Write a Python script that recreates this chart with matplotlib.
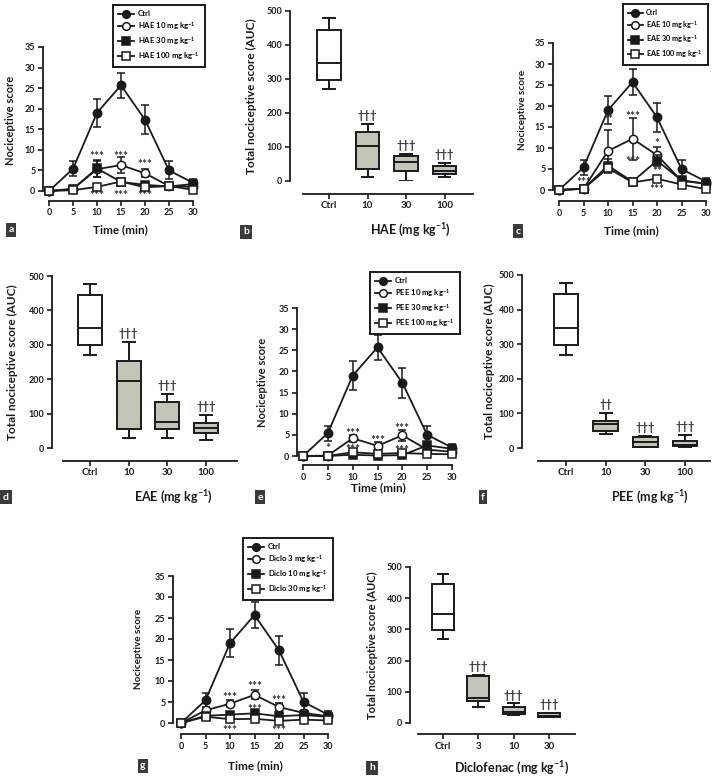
import matplotlib
matplotlib.use('Agg')
import matplotlib.pyplot as plt

plt.rcParams['font.family'] = ['Lato', 'DejaVu Sans']
plt.rcParams['font.weight'] = 'bold'
plt.rcParams['mathtext.fontset'] = 'custom'
plt.rcParams['mathtext.bf'] = 'Lato:bold'
plt.rcParams['mathtext.rm'] = 'Lato:bold'
plt.rcParams['mathtext.default'] = 'bf'

# ---------------- data ----------------
time = [0, 5, 10, 15, 20, 25, 30]
ctrl_mean = [0, 5.4, 19.0, 25.7, 17.3, 5.0, 2.0]
ctrl_err = [0, 1.8, 3.4, 3.0, 3.5, 2.2, 0.9]

hae10_mean = [0, 0.5, 5.3, 6.3, 4.3, 1.2, 1.0]
hae10_err = [0, 0.3, 2.0, 1.9, 1.0, 0.4, 0.5]
hae30_mean = [0, 0.5, 5.5, 2.2, 1.5, 1.1, 1.7]
hae30_err = [0, 0.3, 2.0, 0.5, 0.6, 0.4, 0.6]
hae100_mean = [0, 0.2, 1.0, 2.3, 0.9, 1.2, 0.3]
hae100_err = [0, 0.2, 0.4, 0.5, 0.4, 0.4, 0.2]

eae10_mean = [0, 0.3, 9.3, 12.2, 8.3, 2.2, 1.5]
eae10_err = [0, 0.3, 4.9, 5.0, 2.0, 0.8, 0.6]
eae30_mean = [0, 0.3, 5.8, 2.0, 7.0, 2.3, 1.5]
eae30_err = [0, 0.3, 1.5, 0.6, 1.3, 0.8, 0.6]
eae100_mean = [0, 0.3, 5.2, 1.8, 2.7, 1.3, 0.2]
eae100_err = [0, 0.2, 1.2, 0.5, 0.5, 0.5, 0.2]

pee10_mean = [0, 0.1, 4.2, 2.4, 4.9, 1.5, 1.0]
pee10_err = [0, 0.1, 0.8, 0.8, 1.3, 0.6, 0.4]
pee30_mean = [0, 0.0, 0.3, 0.1, 0.2, 2.5, 1.7]
pee30_err = [0, 0.0, 0.2, 0.1, 0.2, 0.8, 0.6]
pee100_mean = [0, 0.0, 0.9, 0.5, 0.7, 0.5, 0.4]
pee100_err = [0, 0.0, 0.4, 0.3, 0.3, 0.2, 0.2]

diclo3_mean = [0, 3.0, 4.6, 6.7, 3.8, 2.4, 1.6]
diclo3_err = [0, 0.8, 0.9, 1.1, 0.9, 0.6, 0.5]
diclo10_mean = [0, 1.7, 2.0, 2.3, 1.6, 1.9, 1.5]
diclo10_err = [0, 0.5, 0.5, 0.6, 0.5, 0.5, 0.4]
diclo30_mean = [0, 1.5, 0.9, 1.0, 0.5, 0.8, 0.6]
diclo30_err = [0, 0.4, 0.3, 0.3, 0.2, 0.3, 0.2]

# star annotations: (time, y, text)
hae_stars = [(10, 8.4, '***'), (15, 8.4, '***'), (20, 6.4, '***'),
             (10, -1.0, '***'), (15, -1.0, '***'), (20, -1.0, '***')]
eae_stars = [(5, 1.8, '***'), (10, 16.8, '**'), (15, 17.4, '***'), (20, 11.1, '*'),
             (15, 6.7, '***'), (20, 4.5, '**'), (20, 0.0, '***')]
pee_stars = [(5, 1.7, '*'), (10, 5.4, '***'), (15, 3.6, '***'), (20, 6.4, '***'),
             (10, 1.5, '***'), (20, 1.3, '***')]
diclo_stars = [(10, 6.0, '***'), (15, 8.6, '***'), (20, 5.4, '***'),
               (15, 3.2, '***'), (10, -1.7, '***'), (20, -1.7, '***')]

box_stat_keys = ['whislo', 'q1', 'med', 'q3', 'whishi']
ctrl_box = [270, 298, 348, 445, 478]
hae_boxes = [[12, 35, 103, 145, 168], [0, 30, 57, 75, 78], [12, 20, 30, 43, 52]]
eae_boxes = [[30, 55, 195, 253, 308], [30, 55, 77, 133, 157], [22, 45, 57, 73, 95]]
pee_boxes = [[40, 48, 68, 78, 100], [0, 2, 18, 32, 35], [2, 5, 8, 20, 37]]
diclo_boxes = [[52, 71, 79, 150, 154], [26, 29, 36, 52, 63], [18, 20, 24, 32, 33]]

hae_daggers = ['†††', '†††', '†††']
eae_daggers = ['†††', '†††', '†††']
pee_daggers = ['††', '†††', '†††']
diclo_daggers = ['†††', '†††', '†††']

time_ticks = [0, 5, 10, 15, 20, 25, 30]
auc_ticks = [0, 100, 200, 300, 400, 500]
score_ticks = [0, 5, 10, 15, 20, 25, 30, 35]

# ---------------- layout helpers ----------------
W, H = 713, 778
fig = plt.figure(figsize=(W / 100, H / 100), dpi=100)

INK = '#1a1a1a'
BOXFILL = '#c4c5b6'


def pax(x0, x1, ytop, ybot):
    return fig.add_axes([x0 / W, 1 - ybot / H, (x1 - x0) / W, (ybot - ytop) / H])


def letter(x, y, s):
    fig.text(x / W, 1 - y / H, s, color='white', fontsize=7.5, ha='center', va='center',
             fontweight='bold',
             bbox=dict(boxstyle='square,pad=0.25', fc='#3b3b3b', ec='none'))


def style_common(ax, outward, labelsize=6.5):
    for s in ['top', 'right']:
        ax.spines[s].set_visible(False)
    ax.spines['left'].set_linewidth(1.3)
    ax.spines['bottom'].set_linewidth(1.3)
    ax.spines['left'].set_color(INK)
    ax.spines['bottom'].set_color(INK)
    ax.spines['bottom'].set_position(('outward', outward))
    ax.tick_params(direction='out', length=3.5, width=1.2, colors=INK,
                   labelsize=labelsize, pad=2)
    ax.patch.set_alpha(0)


def line_panel(spine_x, x0p, x30p, y0p, y35p, xaxis_y, series, names, stars,
               leg_xy, ylab_fs=8, ylab_right=None, ylab_cy=None, xlab_cy=None,
               xlab_cx=None, leg_fs=5.6):
    sx = (x30p - x0p) / 30.0
    sy = (y0p - y35p) / 35.0
    xmin = (spine_x - x0p) / sx
    ybot = y0p + sy * 1.0
    ax = pax(spine_x, x30p, y35p, ybot)
    ax.set_xlim(xmin, 30)
    ax.set_ylim(-1, 35)
    style_common(ax, xaxis_y - ybot)
    ax.spines['bottom'].set_bounds(0, 30)
    ax.spines['left'].set_bounds(0, 35)
    ax.set_xticks(time_ticks)
    ax.set_yticks(score_ticks)
    markers = [('o', INK), ('o', 'white'), ('s', INK), ('s', 'white')]
    handles = []
    for i, ((m, e), (mk, fc), nm) in enumerate(zip(series, markers, names)):
        ax.errorbar(time, m, yerr=e, fmt='none', ecolor=INK, elinewidth=1.1,
                    capsize=3.0, capthick=1.1, zorder=2 + i, clip_on=False)
        ln, = ax.plot(time, m, '-', color=INK, lw=1.3, marker=mk, mfc=fc, mec=INK,
                      mew=1.1, ms=6.0 if mk == 'o' else 5.4, zorder=3 + i,
                      clip_on=False, label=nm)
        handles.append(ln)
    for (t, yv, s) in stars:
        ax.text(t, yv, s, ha='center', va='center', fontsize=8.5, color='#333333')
    leg = ax.legend(handles=handles, loc='upper left',
                    bbox_to_anchor=(leg_xy[0] / W, 1 - leg_xy[1] / H),
                    bbox_transform=fig.transFigure, borderaxespad=0, frameon=True,
                    fancybox=False, edgecolor=INK, framealpha=1,
                    handlelength=2.0, handletextpad=0.5, labelspacing=0.35,
                    borderpad=0.7, prop={'weight': 'bold', 'size': leg_fs})
    leg.get_frame().set_linewidth(1.4)
    for h in leg.legend_handles:
        h.set_markersize(5.5)
    ax.set_ylabel('Nociceptive score', fontsize=ylab_fs, fontweight='bold', color=INK)
    ax.yaxis.set_label_coords((ylab_right - spine_x) / (x30p - spine_x),
                              (ybot - ylab_cy) / (ybot - y35p))
    ax.set_xlabel('Time (min)', fontsize=8.5, fontweight='bold', color=INK)
    ax.xaxis.label.set_va('center')
    ax.xaxis.set_label_coords((xlab_cx - spine_x) / (x30p - spine_x),
                              (ybot - xlab_cy) / (ybot - y35p))
    return ax


def box_panel(spine_x, c0, sp, y0p, y500p, xa0, xa1, xaxis_y, boxes, daggers,
              cats, xlabel, ylab_right, xlab_cx, xlab_cy, ylab_fs=8.5, xlab_fs=9):
    xlo = (spine_x - c0) / sp
    xhi = (xa1 - c0) / sp
    ax = pax(spine_x, xa1, y500p, y0p)
    ax.set_xlim(xlo, xhi)
    ax.set_ylim(0, 500)
    style_common(ax, xaxis_y - y0p)
    ax.spines['bottom'].set_bounds((xa0 - c0) / sp, xhi)
    ax.spines['left'].set_bounds(0, 500)
    all_boxes = [ctrl_box] + boxes
    stats = [dict(zip(box_stat_keys, b), fliers=[]) for b in all_boxes]
    res = ax.bxp(stats, positions=list(range(len(stats))), widths=0.62,
                 capwidths=0.3, patch_artist=True, showfliers=False,
                 boxprops=dict(linewidth=1.4, edgecolor=INK),
                 medianprops=dict(linewidth=1.4, color=INK),
                 whiskerprops=dict(linewidth=1.4, color=INK),
                 capprops=dict(linewidth=1.4, color=INK))
    for i, p in enumerate(res['boxes']):
        p.set_facecolor('white' if i == 0 else BOXFILL)
    for i, (b, d) in enumerate(zip(boxes, daggers)):
        ax.text(i + 1, b[4] + 9, d, ha='center', va='bottom', fontsize=8,
                color='#333333')
    ax.set_xticks(range(len(cats)))
    ax.set_xticklabels(cats)
    ax.set_yticks(auc_ticks)
    ax.set_ylabel('Total nociceptive score (AUC)', fontsize=ylab_fs,
                  fontweight='bold', color=INK)
    ax.yaxis.set_label_coords((ylab_right - spine_x) / (xa1 - spine_x), 0.5)
    ax.set_xlabel(xlabel, fontsize=xlab_fs, fontweight='bold', color=INK)
    ax.xaxis.label.set_va('center')
    ax.xaxis.set_label_coords((xlab_cx - spine_x) / (xa1 - spine_x),
                              (y0p - xlab_cy) / (y0p - y500p))
    ax.tick_params(axis='x', labelsize=7)
    return ax


kg = r'mg kg$^{-1}$'

# panel a
line_panel(43, 49, 193, 191, 47, 199,
           [(ctrl_mean, ctrl_err), (hae10_mean, hae10_err), (hae30_mean, hae30_err),
            (hae100_mean, hae100_err)],
           ['Ctrl', 'HAE 10 ' + kg, 'HAE 30 ' + kg, 'HAE 100 ' + kg],
           hae_stars, (113, 5), ylab_right=16, ylab_cy=120, xlab_cx=120, xlab_cy=230)
letter(11, 230, 'a')

# panel b
box_panel(290, 329, 38.5, 181, 11, 303, 473, 190, hae_boxes, hae_daggers,
          ['Ctrl', '10', '30', '100'], 'HAE (' + kg + ')', 257, 410, 230)
letter(246, 232, 'b')

# panel c
line_panel(553, 559, 706, 190, 43, 199,
           [(ctrl_mean, ctrl_err), (eae10_mean, eae10_err), (eae30_mean, eae30_err),
            (eae100_mean, eae100_err)],
           ['Ctrl', 'EAE 10 ' + kg, 'EAE 30 ' + kg, 'EAE 100 ' + kg],
           eae_stars, (623, 4), ylab_fs=7.2, ylab_right=527, ylab_cy=110,
           xlab_cx=631, xlab_cy=231, leg_fs=5.2)
letter(518, 231, 'c')

# panel d
box_panel(52, 90, 38.7, 448, 276, 63, 237, 457, eae_boxes, eae_daggers,
          ['Ctrl', '10', '30', '100'], 'EAE (' + kg + ')', 18, 173, 497)
letter(6, 497, 'd')

# panel e
line_panel(297, 303, 452, 456, 308, 464,
           [(ctrl_mean, ctrl_err), (pee10_mean, pee10_err), (pee30_mean, pee30_err),
            (pee100_mean, pee100_err)],
           ['Ctrl', 'PEE 10 ' + kg, 'PEE 30 ' + kg, 'PEE 100 ' + kg],
           pee_stars, (370, 272), ylab_right=268, ylab_cy=382, xlab_cx=378,
           xlab_cy=488)
letter(260, 497, 'e')

# panel f
box_panel(522, 566, 39.7, 448, 275, 538, 710, 457, pee_boxes, pee_daggers,
          ['Ctrl', '10', '30', '100'], 'PEE (' + kg + ')', 495, 650, 497)
letter(483, 497, 'f')

# panel g
line_panel(173, 181, 328, 723, 576, 732,
           [(ctrl_mean, ctrl_err), (diclo3_mean, diclo3_err),
            (diclo10_mean, diclo10_err), (diclo30_mean, diclo30_err)],
           ['Ctrl', 'Diclo 3 ' + kg, 'Diclo 10 ' + kg, 'Diclo 30 ' + kg],
           diclo_stars, (243, 538), ylab_fs=7.2, ylab_right=143, ylab_cy=649,
           xlab_cx=255, xlab_cy=766)
letter(143, 766, 'g')

# panel h
box_panel(410, 443, 35.3, 723, 567, 418, 575, 731, diclo_boxes, diclo_daggers,
          ['Ctrl', '3', '10', '30'], 'Diclofenac (' + kg + ')', 378, 512, 768,
          ylab_fs=8)
letter(372, 768, 'h')

fig.savefig('out.png', dpi=100)
